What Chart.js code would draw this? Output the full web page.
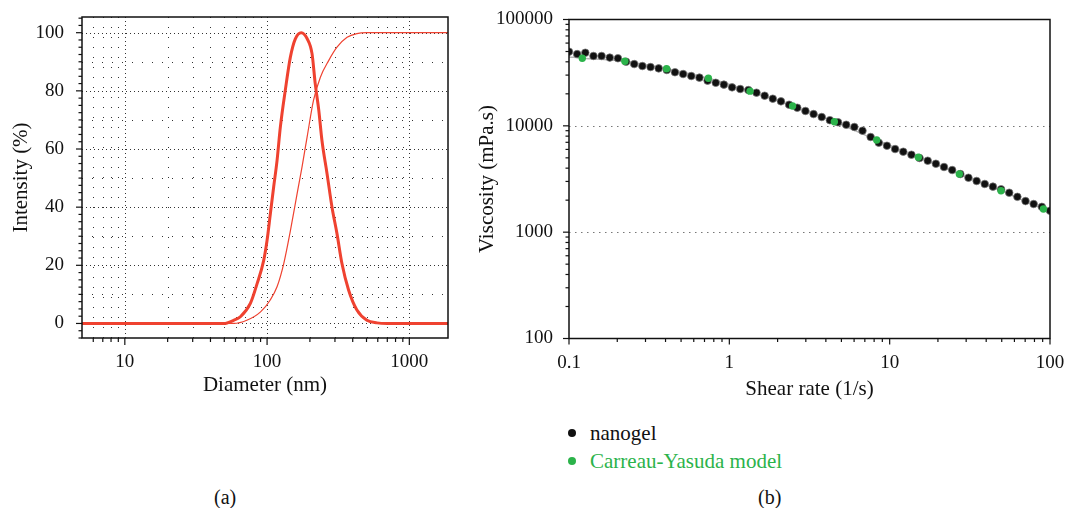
<!DOCTYPE html>
<html>
<head>
<meta charset="utf-8">
<script src="https://cdn.jsdelivr.net/npm/chart.js@4.4.1/dist/chart.umd.min.js"></script>
<style>
  body { margin: 0; background: #fff; width: 1066px; height: 508px; overflow: hidden; position: relative;
         font-family: 'Liberation Serif', 'Times New Roman', serif; color: #111; }
  .box { position: absolute; }
  #boxA { left: 0; top: 0; width: 466px; height: 402px; }
  #boxB { left: 466px; top: 0; width: 600px; height: 407px; }
  .cap { position: absolute; font-size: 20px; top: 486px; }
  .legend { position: absolute; left: 566px; top: 419px; font-size: 21px; }
  .legend div { position: relative; height: 28px; line-height: 28px; padding-left: 24px; white-space: nowrap; }
  .legend .dot { position: absolute; left: 2px; top: 10px; width: 8px; height: 8px; border-radius: 50%; }
</style>
</head>
<body>
<div class="box" id="boxA"><canvas id="chartA"></canvas></div>
<div class="box" id="boxB"><canvas id="chartB"></canvas></div>
<div class="legend">
  <div><span class="dot" style="background:#111"></span>nanogel</div>
  <div style="color:#2bb34a"><span class="dot" style="background:#2bb34a"></span>Carreau-Yasuda model</div>
</div>
<div class="cap" style="left:214px">(a)</div>
<div class="cap" style="left:758px">(b)</div>
<script>
// (a) size distribution - intensity
var distSize = [5, 49.6, 58.3, 64.9, 76.3, 85.1, 94.7, 100, 105.5, 111.3, 117.5, 124, 134.3, 145.8, 158, 174,
                191, 207, 218, 231, 243, 264, 286, 310, 336, 374, 428, 503, 592, 700, 1870];
var distIntensity = [0, 0, 1.1, 2.3, 6.9, 13.7, 21.7, 28.6, 37.8, 47, 56, 67.6, 80.2, 91.6, 97.9, 100,
                     98, 92.8, 82.5, 73.3, 63, 51.5, 40, 30.9, 20.6, 11.5, 4.6, 1.1, 0.2, 0, 0];
// cumulative curve
var cumSize = [5, 58, 72, 90, 105, 117.5, 131, 146, 162.5, 176, 191, 212, 237, 271, 310, 365, 428, 500, 1870];
var cumIntensity = [0, 0, 1.1, 4, 8, 12.6, 20.6, 32, 44.6, 53.8, 64, 76.7, 84.7, 90.4, 95, 98.4, 99.7, 100, 100];
var xLabelsA = [10, 100, 1000];
var yLabelsA = [0, 20, 40, 60, 80, 100];

// (b) viscosity vs shear rate
var shearRate = [0.1, 0.1124, 0.1264, 0.1421, 0.1597, 0.1796, 0.2019, 0.2270, 0.2551, 0.2868,
                 0.3225, 0.3625, 0.4075, 0.4581, 0.5151, 0.5790, 0.6510, 0.7318, 0.8228, 0.9249,
                 1.040, 1.169, 1.314, 1.477, 1.661, 1.867, 2.099, 2.360, 2.653, 2.983,
                 3.353, 3.770, 4.238, 4.764, 5.356, 6.022, 6.769, 7.610, 8.555, 9.618,
                 10.81, 12.16, 13.67, 15.36, 17.27, 19.42, 21.83, 24.54, 27.59, 31.01,
                 34.86, 39.19, 44.06, 49.53, 55.68, 62.60, 70.37, 79.11, 88.95, 100];
var viscosity = [49800, 47300, 48700, 45400, 45400, 43800, 43200, 40100, 38100, 36500,
                 35700, 34700, 33500, 31900, 30700, 29400, 28400, 26600, 25400, 24400,
                 23000, 22200, 21700, 20500, 19200, 18000, 17000, 15800, 14800, 13800,
                 12900, 12100, 11300, 10800, 10240, 9750, 9000, 7850, 6940, 6500,
                 6050, 5710, 5350, 4980, 4700, 4400, 4100, 3840, 3520, 3250,
                 3030, 2840, 2680, 2530, 2350, 2150, 1960, 1840, 1730, 1590];
var modelRate = [0.121, 0.223, 0.406, 0.74, 1.346, 2.48, 4.52, 8.3, 15.1, 27.2, 49.5, 91];
var modelVisc = [43200, 40500, 34400, 28000, 21200, 15350, 10940, 7350, 5060, 3520, 2450, 1650];
var fitRate = [0.1, 0.121, 0.223, 0.406, 0.74, 1.346, 2.48, 4.52, 8.3, 15.1, 27.2, 49.5, 91, 100];
var fitVisc = [44500, 43200, 40500, 34400, 28000, 21200, 15350, 10940, 7350, 5060, 3520, 2450, 1650, 1560];
var xLabelsB = [0.1, 1, 10, 100];
var yLabelsB = [100, 1000, 10000, 100000];

var red = '#ef4230';
function pts(xs, ys) { return xs.map(function (x, i) { return { x: x, y: ys[i] }; }); }
function logMinors(lo, hi) {
  var out = [];
  for (var d = lo; d < hi; d *= 10) for (var m = 2; m <= 9; m++) out.push(+(d * m).toPrecision(3));
  return out;
}

Chart.defaults.font.family = "'Liberation Serif', 'Times New Roman', serif";
Chart.defaults.color = '#111';

// grid + tick marks drawn through the scales
var frameSpec = {};
(function () {
  var xg = [], yg = [], xt = [], yt = [];
  xLabelsA.forEach(function (v) { xg.push({ v: v, dash: [1, 3] }); xt.push({ v: v, len: 7 }); });
  logMinors(1, 1000).forEach(function (v) {
    if (v > 5 && v < 1870) { xg.push({ v: v, dash: [1, 9] }); xt.push({ v: v, len: 4 }); }
  });
  for (var y = 0; y <= 100; y += 10) yg.push({ v: y, dash: y % 20 === 0 ? [1, 3] : [1, 9] });
  for (var t = -5; t <= 105; t += 2.5) yt.push({ v: t, len: t % 20 === 0 ? 6 : 3.5 });
  frameSpec.chartA = { xGrid: xg, yGrid: yg, xTicks: xt, yTicks: yt, gridColor: '#333' };

  var xt2 = [], yt2 = [];
  xLabelsB.forEach(function (v) { xt2.push({ v: v, len: 6 }); });
  logMinors(0.1, 100).forEach(function (v) { xt2.push({ v: v, len: 3.5 }); });
  yLabelsB.forEach(function (v) { yt2.push({ v: v, len: 6 }); });
  logMinors(100, 100000).forEach(function (v) { yt2.push({ v: v, len: 3.5 }); });
  frameSpec.chartB = { xGrid: [], yGrid: [{ v: 1000, dash: [1.5, 4.5] }, { v: 10000, dash: [1.5, 4.5] }],
                       xTicks: xt2, yTicks: yt2, gridColor: '#777' };
})();

var framePlugin = {
  id: 'frame',
  beforeDatasetsDraw: function (chart) {
    var spec = frameSpec[chart.canvas.id], ctx = chart.ctx, a = chart.chartArea;
    var sx = chart.scales.x, sy = chart.scales.y;
    ctx.save();
    ctx.lineWidth = 1;
    ctx.strokeStyle = spec.gridColor;
    spec.xGrid.forEach(function (g) {
      var px = Math.round(sx.getPixelForValue(g.v)) + 0.5;
      ctx.setLineDash(g.dash);
      ctx.beginPath(); ctx.moveTo(px, a.top); ctx.lineTo(px, a.bottom); ctx.stroke();
    });
    spec.yGrid.forEach(function (g) {
      var py = Math.round(sy.getPixelForValue(g.v)) + 0.5;
      ctx.setLineDash(g.dash);
      ctx.beginPath(); ctx.moveTo(a.left, py); ctx.lineTo(a.right, py); ctx.stroke();
    });
    ctx.restore();
  },
  afterDraw: function (chart) {
    var spec = frameSpec[chart.canvas.id], ctx = chart.ctx, a = chart.chartArea;
    var sx = chart.scales.x, sy = chart.scales.y;
    ctx.save();
    ctx.strokeStyle = '#111';
    ctx.lineWidth = 1.2;
    spec.xTicks.forEach(function (t) {
      var px = sx.getPixelForValue(t.v);
      ctx.beginPath(); ctx.moveTo(px, a.bottom); ctx.lineTo(px, a.bottom + t.len); ctx.stroke();
    });
    spec.yTicks.forEach(function (t) {
      var py = sy.getPixelForValue(t.v);
      ctx.beginPath(); ctx.moveTo(a.left - t.len, py); ctx.lineTo(a.left, py); ctx.stroke();
    });
    ctx.lineWidth = 1.5;
    ctx.strokeRect(a.left, a.top, a.right - a.left, a.bottom - a.top);
    ctx.restore();
  }
};

function axis(type, min, max, labels, size, title, tpad, titlePad) {
  return {
    type: type, min: min, max: max,
    grid: { display: false, drawTicks: false },
    border: { display: false },
    afterBuildTicks: function (s) { s.ticks = labels.map(function (v) { return { value: v }; }); },
    afterFit: function (s) {
      if (s.isHorizontal()) s.height = size; else s.width = size;
      // no label overhang padding: layout padding alone sets the plot box
      s.paddingTop = s.paddingBottom = s.paddingLeft = s.paddingRight = 0;
    },
    ticks: { autoSkip: false, maxRotation: 0, padding: tpad, font: { size: 19 },
             callback: function (v) { return String(v); } },
    title: { display: true, text: title, font: { size: 21 }, padding: titlePad }
  };
}

new Chart(document.getElementById('chartA'), {
  type: 'scatter',
  data: {
    datasets: [
      { data: pts(distSize, distIntensity), showLine: true, borderColor: red, borderWidth: 3,
        pointRadius: 0, cubicInterpolationMode: 'monotone' },
      { data: pts(cumSize, cumIntensity), showLine: true, borderColor: red, borderWidth: 1.2,
        pointRadius: 0, cubicInterpolationMode: 'monotone' }
    ]
  },
  options: {
    responsive: true, maintainAspectRatio: false, animation: false,
    layout: { padding: { top: 17, right: 18, left: 0, bottom: 0 } },
    plugins: { legend: { display: false }, tooltip: { enabled: false } },
    scales: {
      x: axis('logarithmic', 5, 1870, xLabelsA, 64, 'Diameter (nm)', 13, { top: 0, bottom: 4 }),
      y: axis('linear', -5, 105.4, yLabelsA, 82, 'Intensity (%)', 18, { top: 9, bottom: 0 })
    }
  },
  plugins: [framePlugin]
});

new Chart(document.getElementById('chartB'), {
  type: 'scatter',
  data: {
    datasets: [
      { label: 'Carreau-Yasuda model', data: pts(modelRate, modelVisc), backgroundColor: '#2bb34a',
        borderColor: '#2bb34a', pointRadius: 3.7, borderWidth: 0 },
      { label: 'nanogel', data: pts(shearRate, viscosity), backgroundColor: '#111',
        borderColor: 'rgba(120,120,120,0.9)', pointRadius: 3.8, borderWidth: 0.8 },
      { data: pts(fitRate, fitVisc), showLine: true, borderColor: '#b5b5b5', borderWidth: 1.5,
        pointRadius: 0, cubicInterpolationMode: 'monotone' }
    ]
  },
  options: {
    responsive: true, maintainAspectRatio: false, animation: false,
    layout: { padding: { top: 19.5, right: 16, left: 0, bottom: 0 } },
    plugins: { legend: { display: false }, tooltip: { enabled: false } },
    scales: {
      x: axis('logarithmic', 0.1, 100, xLabelsB, 68.5, 'Shear rate (1/s)', 13, { top: 0, bottom: 5 }),
      y: axis('logarithmic', 100, 100000, yLabelsB, 103, 'Viscosity (mPa.s)', 16, { top: 9, bottom: 0 })
    }
  },
  plugins: [framePlugin]
});
</script>
</body>
</html>
